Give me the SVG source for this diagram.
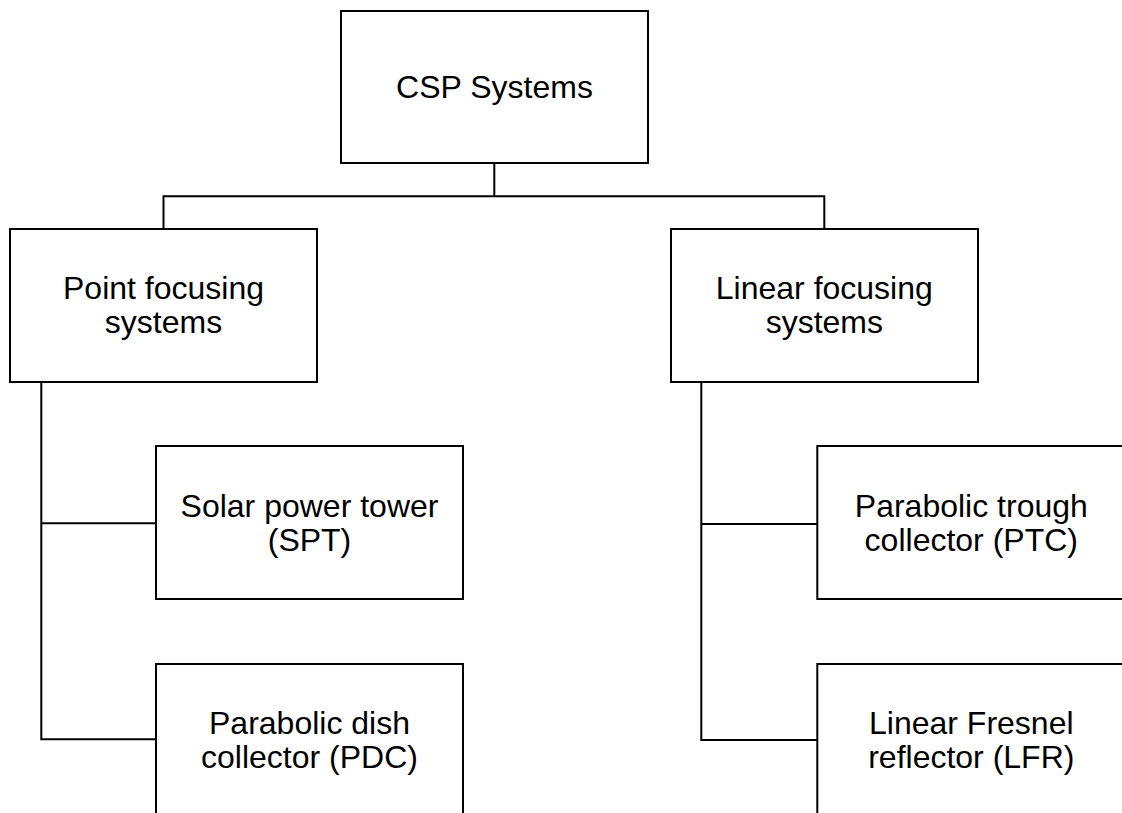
<svg xmlns="http://www.w3.org/2000/svg" width="1122" height="813" viewBox="0 0 1122 813">
  <style>
    .box { fill: #ffffff; stroke: #000000; stroke-width: 2; }
    .conn { fill: none; stroke: #000000; stroke-width: 2; }
    .lbl { font-family: "Liberation Sans", Arial, sans-serif; font-size: 32px; fill: #000000; text-anchor: middle; }
  </style>
  <rect width="1122" height="813" fill="#ffffff"/>
  <g id="connectors">
    <path class="conn" d="M494.3,163 V196.3 M163.5,229 V196.3 H824.3 V229"/>
    <path class="conn" d="M41.3,382 V739.3 H156 M41.3,523.3 H156"/>
    <path class="conn" d="M701.3,382 V740 H817.3 M701.3,524 H817.3"/>
  </g>
  <g id="csp">
    <rect class="box" x="341" y="11" width="307" height="152"/>
    <text class="lbl" x="494.5" y="97.5">CSP Systems</text>
  </g>
  <g id="point">
    <rect class="box" x="10" y="229" width="307" height="153"/>
    <text class="lbl" x="163.5" y="299">Point focusing</text>
    <text class="lbl" x="163.5" y="333">systems</text>
  </g>
  <g id="linear">
    <rect class="box" x="671" y="229" width="307" height="153"/>
    <text class="lbl" x="824.3" y="299">Linear focusing</text>
    <text class="lbl" x="824.3" y="333">systems</text>
  </g>
  <g id="spt">
    <rect class="box" x="156" y="446" width="307" height="153"/>
    <text class="lbl" x="309.5" y="516.5">Solar power tower</text>
    <text class="lbl" x="309.5" y="550.5">(SPT)</text>
  </g>
  <g id="pdc">
    <rect class="box" x="156" y="664" width="307" height="160"/>
    <text class="lbl" x="309.5" y="733.5">Parabolic dish</text>
    <text class="lbl" x="309.5" y="767.5">collector (PDC)</text>
  </g>
  <g id="ptc">
    <rect class="box" x="817.3" y="446" width="308" height="153"/>
    <text class="lbl" x="971.3" y="516.5">Parabolic trough</text>
    <text class="lbl" x="971.3" y="550.5">collector (PTC)</text>
  </g>
  <g id="lfr">
    <rect class="box" x="817.3" y="664" width="308" height="160"/>
    <text class="lbl" x="971.3" y="733.5">Linear Fresnel</text>
    <text class="lbl" x="971.3" y="767.5">reflector (LFR)</text>
  </g>
</svg>
